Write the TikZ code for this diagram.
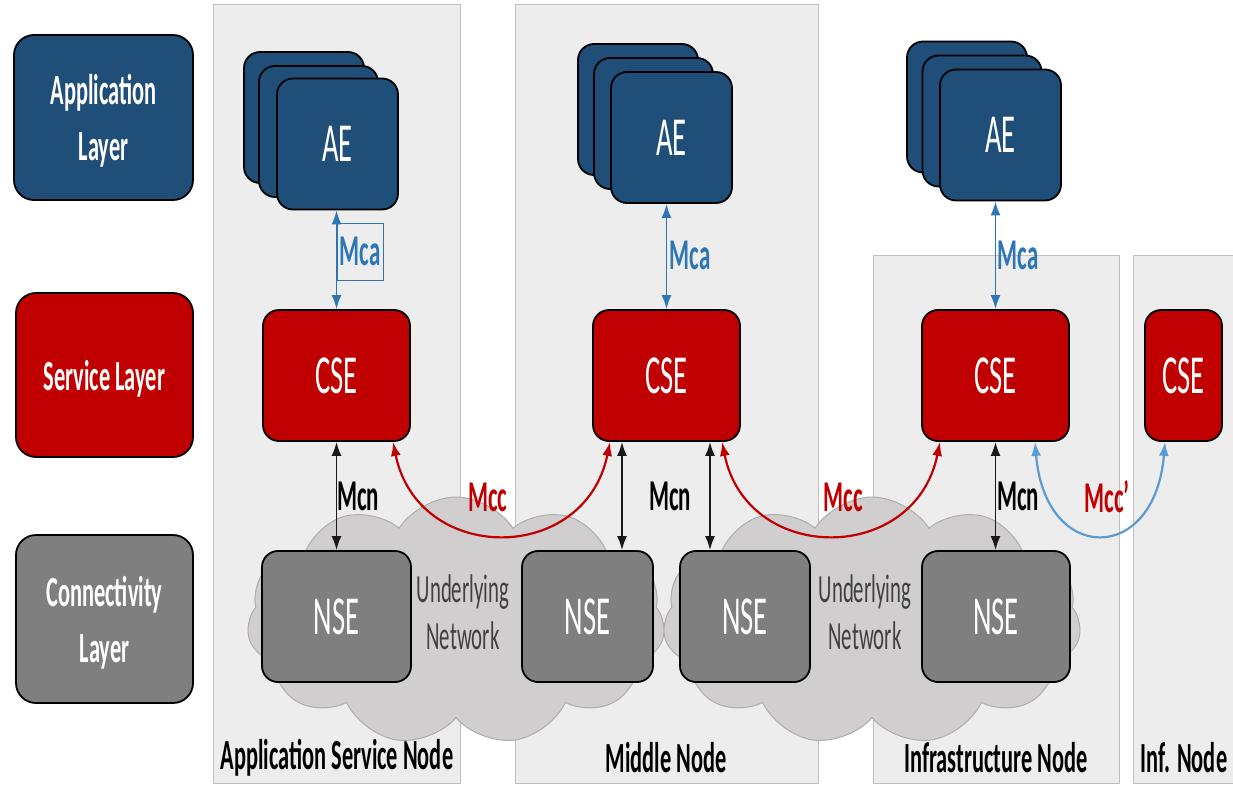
\documentclass[tikz,border=0pt]{standalone}
\usepackage{fontspec}
\setmainfont{Carlito}[FakeStretch=0.52]
\usetikzlibrary{shapes.symbols,arrows.meta,calc}

\definecolor{appblue}{HTML}{1F4E79}
\definecolor{svcred}{HTML}{C00000}
\definecolor{congray}{HTML}{7F7F7F}
\definecolor{panelfill}{HTML}{EDEDED}
\definecolor{panelline}{HTML}{BFBFBF}
\definecolor{cloudfill}{HTML}{D0CECE}
\definecolor{cloudline}{HTML}{AFABAB}
\definecolor{mcablue}{HTML}{2E75B6}
\definecolor{mccblue}{HTML}{5B9BD5}
\definecolor{nettext}{HTML}{404040}

\begin{document}
\begin{tikzpicture}[x=1pt,y=-1pt,
  box/.style={draw=black, line width=1.8pt, rounded corners=16pt, inner sep=0pt, text=white},
  layerbox/.style={box, rounded corners=20pt, font=\fontsize{43}{56}\selectfont\bfseries, align=center, text depth=0pt},
  entity/.style={box, font=\fontsize{55}{60}\selectfont},
  aebox/.style={entity, fill=appblue, minimum width=121, minimum height=131},
  csebox/.style={entity, fill=svcred, minimum height=131},
  nsebox/.style={entity, fill=congray, minimum height=131},
  panel/.style={fill=panelfill, draw=panelline, line width=1pt},
  netcloud/.style={cloud, cloud puffs=11, cloud puff arc=115, aspect=1.7, minimum width=418, minimum height=248, fill=cloudfill, draw=cloudline, line width=1pt},
  lbl/.style={font=\fontsize{44}{50}\selectfont\bfseries, inner sep=1pt},
  nodelbl/.style={font=\fontsize{43}{50}\selectfont\bfseries, text=black},
  nettxt/.style={font=\fontsize{40}{47}\selectfont, text=nettext, align=center},
  biarr/.style={{Latex[length=14pt,width=10pt]}-{Latex[length=14pt,width=10pt]}, line width=1.8pt},
  mccarr/.style={{Latex[length=14pt,width=10pt]}-{Latex[length=14pt,width=10pt]}, line width=2.2pt},
]
\useasboundingbox (0,0) rectangle (1233,784);

% panels
\path[panel] (213,5) rectangle (460,783);
\path[panel] (515,5) rectangle (818,783);
\path[panel] (873,255) rectangle (1119,783);
\path[panel] (1133,255) rectangle (1245,783);

% clouds
\node[netcloud] (cloud1) at (456,621) {};
\node[netcloud] (cloud2) at (872,621) {};

% layer boxes
\node[layerbox, fill=appblue, minimum width=179, minimum height=165] (lay1) at (103.5,117.5) {Application\\Layer};
\node[layerbox, fill=svcred, minimum width=177, minimum height=164] (lay2) at (104.5,375) {Service Layer};
\node[layerbox, fill=congray, minimum width=177, minimum height=168] (lay3) at (104.5,619) {Connectivity\\Layer};

% AE stacks
\node[aebox, minimum width=120] (ae1c) at (304,117.5) {};
\node[aebox, minimum width=119] (ae1b) at (318.5,131.5) {};
\node[aebox] (ae1) at (337.5,144) {AE};

\node[aebox, minimum width=120] (ae2c) at (638,109.5) {};
\node[aebox, minimum width=119] (ae2b) at (653.5,123.5) {};
\node[aebox] (ae2) at (671.5,137.5) {AE};

\node[aebox, minimum width=120] (ae3c) at (967,107) {};
\node[aebox, minimum width=119] (ae3b) at (982,121) {};
\node[aebox] (ae3) at (1000.5,135) {AE};

% CSE
\node[csebox, minimum width=147] (cse1) at (336.5,375.5) {CSE};
\node[csebox, minimum width=147] (cse2) at (666.5,375.5) {CSE};
\node[csebox, minimum width=147] (cse3) at (995.5,375.5) {CSE};
\node[csebox, minimum width=77] (cse4) at (1183.5,375.5) {CSE};

% NSE
\node[nsebox, minimum width=149] (nse1) at (336.5,616.5) {NSE};
\node[nsebox, minimum width=131] (nse2) at (587.5,616.5) {NSE};
\node[nsebox, minimum width=130] (nse3) at (745,616.5) {NSE};
\node[nsebox, minimum width=148] (nse4) at (996,616.5) {NSE};

% underlying network text
\node[nettxt] (net1) at (463,612) {Underlying\\Network};
\node[nettxt] (net2) at (865,612) {Underlying\\Network};

% Mca
\draw[biarr, mcablue] (ae1.south -| cse1.north) -- (cse1.north);
\draw[biarr, mcablue] (ae2.south -| cse2.north) -- (cse2.north);
\draw[biarr, mcablue] (ae3.south -| cse3.north) -- (cse3.north);
\node[lbl, text=mcablue, draw=mcablue, line width=1pt, minimum width=46, minimum height=57, inner sep=0pt] (mca1) at (360,251.5) {Mca};
\node[lbl, text=mcablue] (mca2) at (690,255) {Mca};
\node[lbl, text=mcablue] (mca3) at (1018,255) {Mca};

% Mcn
\draw[biarr, black!90] (cse1.south) -- (cse1.south |- nse1.north);
\draw[biarr, black!90] ([xshift=-44.5pt]cse2.south) -- ([xshift=-44.5pt]cse2.south |- nse2.north);
\draw[biarr, black!90] ([xshift=43.5pt]cse2.south) -- ([xshift=43.5pt]cse2.south |- nse3.north);
\draw[biarr, black!90] (cse3.south) -- (cse3.south |- nse4.north);
\node[lbl, text=black] (mcn1) at (358,496) {Mcn};
\node[lbl, text=black] (mcn2) at (670,496) {Mcn};
\node[lbl, text=black] (mcn3) at (1018,496) {Mcn};

% Mcc
\draw[mccarr, svcred] ([xshift=56.5pt]cse1.south) .. controls (418,565) and (585,565) .. ([xshift=-56.5pt]cse2.south);
\draw[mccarr, svcred] ([xshift=55.5pt]cse2.south) .. controls (747,565) and (915,565) .. ([xshift=-55.5pt]cse3.south);
\draw[mccarr, mccblue] ([xshift=39.5pt]cse3.south) .. controls (1045,565) and (1155,565) .. ([xshift=-18.5pt]cse4.south);
\node[lbl, text=svcred] (mcc1) at (488,497) {Mcc};
\node[lbl, text=svcred] (mcc2) at (843,497) {Mcc};
\node[lbl, text=svcred] (mcc3) at (1107,497) {Mcc’};

% bottom labels
\node[nodelbl] (asn) at (337,758) {Application Service Node};
\node[nodelbl] (mn) at (666,758) {Middle Node};
\node[nodelbl] (in) at (996,758) {Infrastructure Node};
\node[nodelbl] (infn) at (1184,758) {Inf. Node};
\end{tikzpicture}
\end{document}
